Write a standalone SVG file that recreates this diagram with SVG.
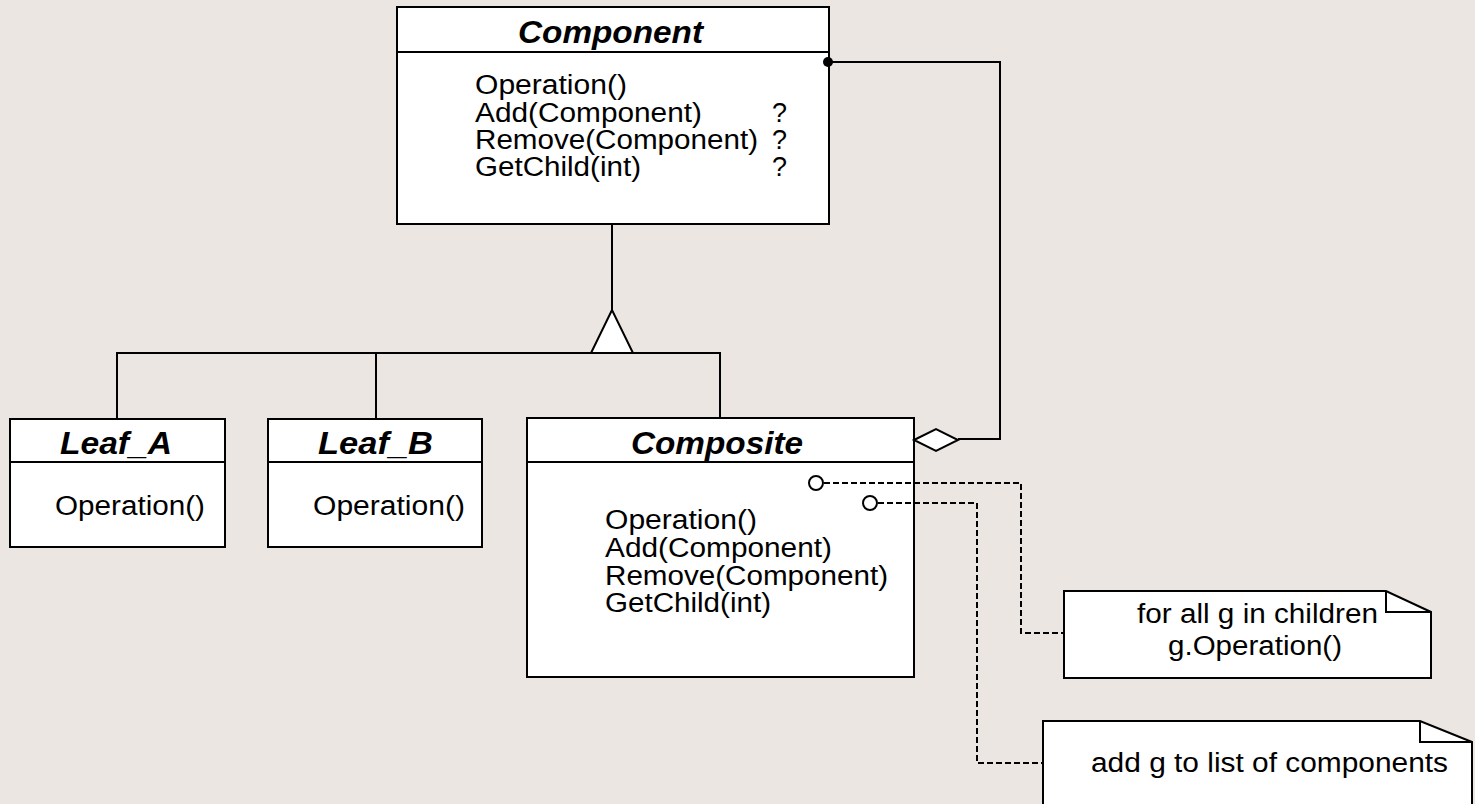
<svg xmlns="http://www.w3.org/2000/svg" width="1475" height="804" viewBox="0 0 1475 804">
<style>
.bg{fill:#EBE6E2}
.box{fill:#fff;stroke:#000;stroke-width:2}
.ln{fill:none;stroke:#000;stroke-width:2}
.dash{fill:none;stroke:#000;stroke-width:2;stroke-dasharray:6,3}
.t{font-family:"Liberation Sans",Arial,sans-serif;font-size:27px;fill:#000}
.h{font-family:"Liberation Sans",Arial,sans-serif;font-size:31px;font-weight:bold;font-style:italic;fill:#000}
</style>
<rect class="bg" x="0" y="0" width="1475" height="804"/>
<g id="component">
  <rect class="box" x="397" y="7" width="432" height="217"/>
  <line class="ln" x1="397" y1="52" x2="829" y2="52"/>
  <text class="h" x="518" y="43" textLength="185" lengthAdjust="spacingAndGlyphs">Component</text>
  <text class="t" x="475" y="94" textLength="152" lengthAdjust="spacingAndGlyphs">Operation()</text>
  <text class="t" x="475" y="122" textLength="227" lengthAdjust="spacingAndGlyphs">Add(Component)</text>
  <text class="t" x="475" y="149" textLength="283" lengthAdjust="spacingAndGlyphs">Remove(Component)</text>
  <text class="t" x="475" y="176" textLength="166" lengthAdjust="spacingAndGlyphs">GetChild(int)</text>
  <text class="t" x="772" y="122">?</text>
  <text class="t" x="772" y="149">?</text>
  <text class="t" x="772" y="176">?</text>
</g>
<g id="leaf_a">
  <rect class="box" x="10" y="419" width="215" height="128"/>
  <line class="ln" x1="10" y1="462" x2="225" y2="462"/>
  <text class="h" x="60" y="454" textLength="112" lengthAdjust="spacingAndGlyphs">Leaf_A</text>
  <text class="t" x="55" y="515" textLength="150" lengthAdjust="spacingAndGlyphs">Operation()</text>
</g>
<g id="leaf_b">
  <rect class="box" x="268" y="419" width="214" height="128"/>
  <line class="ln" x1="268" y1="462" x2="482" y2="462"/>
  <text class="h" x="318" y="454" textLength="115" lengthAdjust="spacingAndGlyphs">Leaf_B</text>
  <text class="t" x="313" y="515" textLength="152" lengthAdjust="spacingAndGlyphs">Operation()</text>
</g>
<g id="composite">
  <rect class="box" x="527" y="418" width="387" height="259"/>
  <line class="ln" x1="527" y1="462" x2="914" y2="462"/>
  <text class="h" x="631" y="454" textLength="172" lengthAdjust="spacingAndGlyphs">Composite</text>
  <text class="t" x="605" y="529" textLength="152" lengthAdjust="spacingAndGlyphs">Operation()</text>
  <text class="t" x="605" y="557" textLength="227" lengthAdjust="spacingAndGlyphs">Add(Component)</text>
  <text class="t" x="605" y="585" textLength="283" lengthAdjust="spacingAndGlyphs">Remove(Component)</text>
  <text class="t" x="605" y="612" textLength="166" lengthAdjust="spacingAndGlyphs">GetChild(int)</text>
</g>
<g id="note1">
  <path class="box" d="M1064,591 L1386,591 L1431,612 L1431,678 L1064,678 Z"/>
  <polyline class="ln" points="1386,591 1386,612 1431,612"/>
  <text class="t" x="1137" y="623" textLength="241" lengthAdjust="spacingAndGlyphs">for all g in children</text>
  <text class="t" x="1168" y="655" textLength="174" lengthAdjust="spacingAndGlyphs">g.Operation()</text>
</g>
<g id="note2">
  <path class="box" d="M1043,721 L1420,721 L1472,742 L1472,810 L1043,810 Z"/>
  <polyline class="ln" points="1420,721 1420,742 1472,742"/>
  <text class="t" x="1091" y="772" textLength="357" lengthAdjust="spacingAndGlyphs">add g to list of components</text>
</g>
<g id="connectors">
  <polyline class="ln" points="612,224 612,310"/>
  <polygon points="612,310 591,353 633,353" fill="#fff" stroke="#000" stroke-width="2"/>
  <polyline class="ln" points="117,419 117,353 720,353 720,418"/>
  <line class="ln" x1="376" y1="353" x2="376" y2="419"/>
  <polyline class="ln" points="828,62 1000,62 1000,439 958,439"/>
  <circle cx="828" cy="62" r="5" fill="#000"/>
  <polygon points="914,440 936,429 958,440 936,451" fill="#fff" stroke="#000" stroke-width="2"/>
  <polyline class="dash" points="824,483 1021,483 1021,633 1064,633"/>
  <circle cx="816" cy="483" r="7" fill="#fff" stroke="#000" stroke-width="2"/>
  <polyline class="dash" points="878,503 977,503 977,763 1043,763"/>
  <circle cx="870" cy="503" r="7" fill="#fff" stroke="#000" stroke-width="2"/>
</g>
</svg>
